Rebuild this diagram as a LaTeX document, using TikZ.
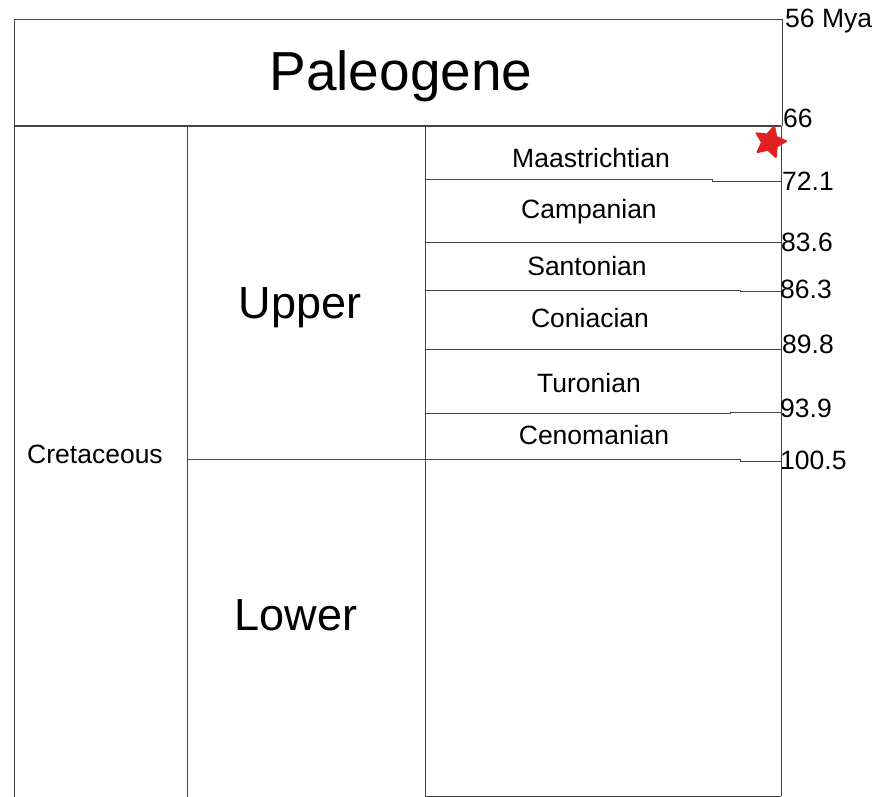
\documentclass[tikz,border=0pt]{standalone}
\usepackage{fontspec}
\setmainfont{Liberation Sans}
\usetikzlibrary{shapes.geometric}
\definecolor{rule}{HTML}{444444}
\definecolor{marker}{HTML}{E02222}
\tikzset{
  x=1pt, y=-1pt,
  rulepath/.style={draw=rule, line width=1.3pt},
  thinrule/.style={draw=rule, line width=1pt},
  bigtitle/.style={font=\fontsize{55}{60}\selectfont, inner sep=0pt},
  subtitle/.style={font=\fontsize{45}{50}\selectfont, inner sep=0pt},
  stagename/.style={font=\fontsize{26.5}{30}\selectfont, inner sep=0pt},
  agelabel/.style={font=\fontsize{26.5}{30}\selectfont, inner sep=0pt, anchor=west},
}
\begin{document}
\begin{tikzpicture}
\useasboundingbox (0,0) rectangle (879,797);

% Paleogene box
\draw[thinrule] (14,126) -- (14,20) -- (782,20) -- (782,126);
\node[bigtitle] (paleo) at (401,76) {Paleogene};

% period / epoch / stage frame
\draw[rulepath] (14,126) -- (781,126);
\draw[thinrule] (14,126) -- (14,797);
\draw[thinrule] (187,126) -- (187,797);
\draw[thinrule] (425,126) -- (425,797);
\draw[thinrule] (781,126) -- (781,796);
\draw[thinrule] (425,796) -- (781,796);

% stage boundaries
\draw[thinrule] (425,180) -- (712,180) -- (712,182) -- (781,182);
\draw[thinrule] (425,242) -- (781,242);
\draw[thinrule] (425,290) -- (740,290) -- (740,291) -- (781,291);
\draw[thinrule] (425,349) -- (781,349);
\draw[thinrule] (425,413) -- (730,413) -- (730,412) -- (781,412);
\draw[thinrule] (187,459) -- (740,459) -- (740,461) -- (781,461);

% names
\node[stagename] (cret) at (95,454) {Cretaceous};
\node[subtitle] (upper) at (300,308) {Upper};
\node[subtitle] (lower) at (296,615) {Lower};
\node[stagename] (maas) at (591,158) {Maastrichtian};
\node[stagename] (camp) at (589,212) {Campanian};
\node[stagename] (sant) at (587,266) {Santonian};
\node[stagename] (coni) at (590,318) {Coniacian};
\node[stagename] (turo) at (589,383) {Turonian};
\node[stagename] (ceno) at (594,435) {Cenomanian};

% ages in millions of years
\node[agelabel] (a56) at (785,21) {56 Mya};
\node[agelabel] (a66) at (783,118) {66};
\node[agelabel] (a72) at (782,181) {72.1};
\node[agelabel] (a83) at (781,242) {83.6};
\node[agelabel] (a86) at (780,289) {86.3};
\node[agelabel] (a89) at (782,344) {89.8};
\node[agelabel] (a93) at (780,408) {93.9};
\node[agelabel] (a100) at (780,460) {100.5};

% K-Pg boundary marker
\node[star, star points=5, star point ratio=2.0, fill=marker, draw=marker,
      line width=2pt, line join=round, minimum size=32pt, inner sep=0pt,
      rotate=-15] (kpg) at (770,142) {};
\end{tikzpicture}
\end{document}
